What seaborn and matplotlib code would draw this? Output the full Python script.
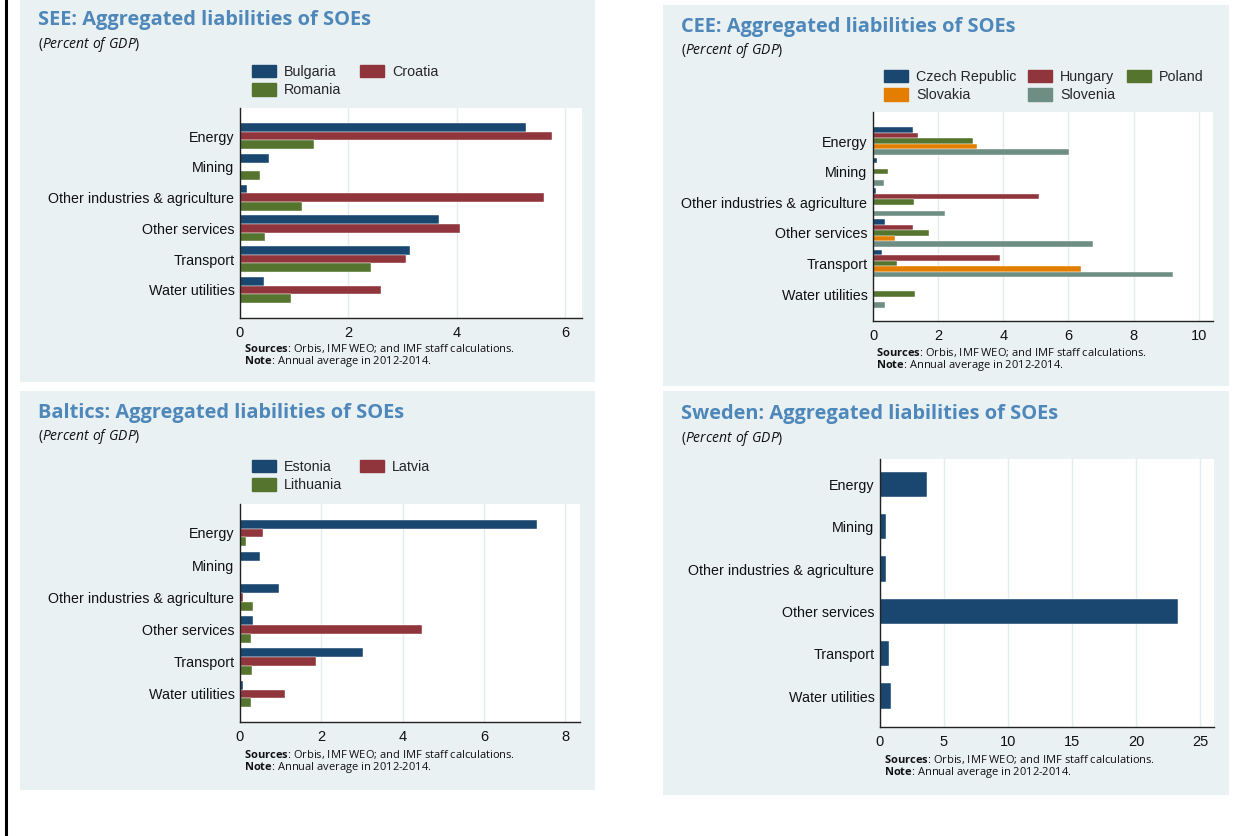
import pandas as pd
import matplotlib.pyplot as plt
import seaborn as sns
from matplotlib.patches import Rectangle, Patch
from matplotlib.lines import Line2D

# ======================================================================
# DATA (percent of GDP, annual average 2012-2014)
# ======================================================================
sectors = ["Energy", "Mining", "Other industries & agriculture",
           "Other services", "Transport", "Water utilities"]

see_countries = ["Bulgaria", "Croatia", "Romania"]
see_bulgaria = [5.28, 0.54, 0.12, 3.68, 3.14, 0.44]
see_croatia = [5.76, 0.0, 5.61, 4.06, 3.07, 2.60]
see_romania = [1.36, 0.36, 1.15, 0.47, 2.41, 0.95]

cee_countries = ["Czech Republic", "Hungary", "Poland", "Slovakia", "Slovenia"]
cee_czech = [1.23, 0.11, 0.10, 0.37, 0.28, 0.03]
cee_hungary = [1.38, 0.0, 5.11, 1.24, 3.89, 0.02]
cee_poland = [3.07, 0.45, 1.27, 1.72, 0.74, 1.29]
cee_slovakia = [3.20, 0.0, 0.04, 0.68, 6.38, 0.03]
cee_slovenia = [6.03, 0.35, 2.22, 6.74, 9.20, 0.36]

baltic_countries = ["Estonia", "Latvia", "Lithuania"]
baltic_estonia = [7.31, 0.48, 0.96, 0.32, 3.03, 0.08]
baltic_latvia = [0.56, 0.0, 0.08, 4.48, 1.88, 1.10]
baltic_lithuania = [0.14, 0.0, 0.32, 0.26, 0.29, 0.26]

sweden = [3.69, 0.50, 0.50, 23.3, 0.73, 0.87]

# Stata s2color palette
NAVY, MAROON, GREEN, ORANGE, TEAL = "#1A476F", "#90353B", "#55752F", "#E37E00", "#6E8E84"
PANEL_BG = "#EAF1F3"
TITLE_C = "#4E87B9"

W, H = 1241, 836


def box(x0, y0, x1, y1):
    return [x0 / W, 1 - y1 / H, (x1 - x0) / W, (y1 - y0) / H]


def long_df(countries, series):
    rows = []
    for c, vals in zip(countries, series):
        for s, v in zip(sectors, vals):
            rows.append({"sector": s, "country": c, "value": v})
    return pd.DataFrame(rows)


def style_axis(ax, xmax, step, top_m, bot_m):
    ax.set_facecolor("white")
    ax.set_xlim(0, xmax)
    ax.set_xticks(range(0, int(xmax) + 1, step))
    ax.set_ylim(len(sectors) - 1 + bot_m, -top_m)
    ax.grid(axis="x", color="#E3ECEF", lw=1.0)
    ax.grid(axis="y", visible=False)
    ax.set_axisbelow(True)
    for s in ["top", "right"]:
        ax.spines[s].set_visible(False)
    for s in ["left", "bottom"]:
        ax.spines[s].set_color("#222222")
        ax.spines[s].set_linewidth(1.0)
    ax.tick_params(axis="x", length=4, width=0.8, color="#222222",
                   labelsize=10.5, pad=1.5, labelcolor="#111111")
    ax.tick_params(axis="y", length=0, labelsize=10.3, pad=4, labelcolor="#111111")
    for lab in ax.get_xticklabels() + ax.get_yticklabels():
        lab.set_fontfamily("Liberation Sans")
    ax.set_xlabel("")
    ax.set_ylabel("")


def panel_text(fig, x, y, title, src_x, src_y):
    fig.text(x / W, 1 - y / H, title, fontsize=14.4, fontweight="bold",
             color=TITLE_C, family="Open Sans", va="center")
    fig.text(x / W, 1 - (y + 24) / H, r"($\it{Percent\ of\ GDP}$)", fontsize=10,
             family="Open Sans", va="center", color="#111111")
    fig.text(src_x / W, 1 - (src_y - 6) / H,
             "$\\bf{Sources}$: Orbis, IMF WEO; and IMF staff calculations.\n"
             "$\\bf{Note}$: Annual average in 2012-2014.",
             fontsize=8.0, family="Open Sans", va="top", linespacing=0.92,
             color="#111111")


def add_legend(fig, names, colors, order, ncol, x, y, colsp):
    handles = [Patch(facecolor=colors[i], edgecolor=colors[i], label=names[i]) for i in order]
    fig.legend(handles=handles, ncol=ncol, loc="upper left",
               bbox_to_anchor=(x / W, 1 - y / H), frameon=False, borderpad=0,
               borderaxespad=0, handlelength=1.7, handleheight=0.95,
               handletextpad=0.55, labelspacing=0.3, columnspacing=colsp,
               prop={"family": "Liberation Sans", "size": 10.3})


sns.set_theme(style="white")
plt.rcParams["font.family"] = ["Liberation Sans", "DejaVu Sans"]
plt.rcParams["mathtext.fontset"] = "custom"
plt.rcParams["mathtext.rm"] = "Open Sans"
plt.rcParams["mathtext.it"] = "Open Sans:italic"
plt.rcParams["mathtext.bf"] = "Open Sans:bold"

fig = plt.figure(figsize=(12.41, 8.36), dpi=100)
fig.patch.set_facecolor("white")

for (x0, y0, x1, y1) in [(20, 0, 595, 382), (663, 5, 1229, 386),
                         (20, 391, 595, 790), (663, 391, 1229, 795)]:
    fig.patches.append(Rectangle((x0 / W, 1 - y1 / H), (x1 - x0) / W, (y1 - y0) / H,
                                 transform=fig.transFigure, facecolor=PANEL_BG,
                                 edgecolor="none", zorder=-5))
fig.add_artist(Line2D([6 / W, 6 / W], [0, 1], color="black", lw=2.2))

# ---- SEE ----
ax1 = fig.add_axes(box(240, 108, 582, 318))
df = long_df(see_countries, [see_bulgaria, see_croatia, see_romania])
see_pal = [NAVY, MAROON, GREEN]
sns.barplot(data=df, x="value", y="sector", hue="country", hue_order=see_countries,
            palette=see_pal, orient="h", width=0.84, saturation=1, legend=False,
            edgecolor="white", linewidth=0.3, ax=ax1)
style_axis(ax1, 6.31, 2, 0.91, 0.91)
panel_text(fig, 38, 20, "SEE: Aggregated liabilities of SOEs", 244, 348)
add_legend(fig, see_countries, see_pal, [0, 2, 1], 2, 252, 65, 1.3)

# ---- CEE ----
ax2 = fig.add_axes(box(873, 112, 1213, 321))
df = long_df(cee_countries, [cee_czech, cee_hungary, cee_poland, cee_slovakia, cee_slovenia])
cee_pal = [NAVY, MAROON, GREEN, ORANGE, TEAL]
sns.barplot(data=df, x="value", y="sector", hue="country", hue_order=cee_countries,
            palette=cee_pal, orient="h", width=0.91, saturation=1, legend=False,
            edgecolor="white", linewidth=0.3, ax=ax2)
style_axis(ax2, 10.44, 2, 0.95, 0.88)
panel_text(fig, 681, 27, "CEE: Aggregated liabilities of SOEs", 876, 352)
add_legend(fig, cee_countries, cee_pal, [0, 3, 1, 4, 2], 3, 884, 70, 0.8)

# ---- Baltics ----
ax3 = fig.add_axes(box(240, 504, 580, 722))
df = long_df(baltic_countries, [baltic_estonia, baltic_latvia, baltic_lithuania])
sns.barplot(data=df, x="value", y="sector", hue="country", hue_order=baltic_countries,
            palette=see_pal, orient="h", width=0.83, saturation=1, legend=False,
            edgecolor="white", linewidth=0.3, ax=ax3)
style_axis(ax3, 8.36, 2, 0.9, 0.87)
panel_text(fig, 38, 413, "Baltics: Aggregated liabilities of SOEs", 244, 754)
add_legend(fig, baltic_countries, see_pal, [0, 2, 1], 2, 252, 460, 1.2)

# ---- Sweden ----
ax4 = fig.add_axes(box(880, 459, 1214, 727))
df = pd.DataFrame({"sector": sectors, "value": sweden})
sns.barplot(data=df, x="value", y="sector", color=NAVY, orient="h", width=0.6,
            saturation=1, edgecolor="white", linewidth=0.3, ax=ax4)
style_axis(ax4, 26.1, 5, 0.6, 0.73)
panel_text(fig, 681, 414, "Sweden: Aggregated liabilities of SOEs", 884, 759)

plt.savefig("out.png", dpi=100)
